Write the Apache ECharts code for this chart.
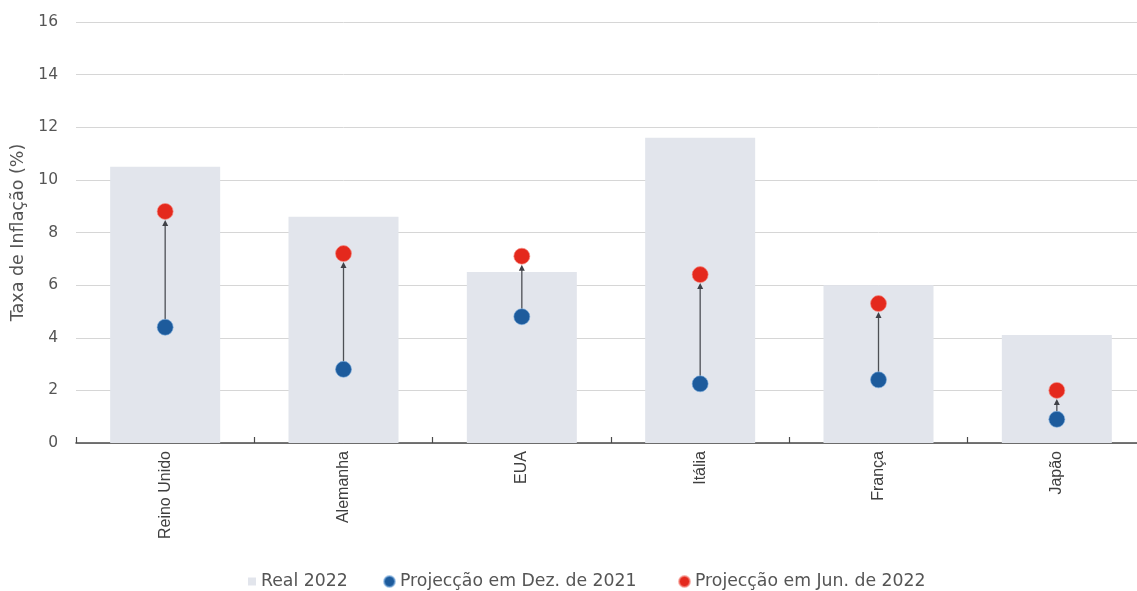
<!DOCTYPE html>
<html>
<head>
<meta charset="utf-8">
<script src="https://cdn.jsdelivr.net/npm/echarts@6/dist/echarts.min.js"></script>
<style>
  html, body { margin: 0; padding: 0; background: #ffffff; overflow: hidden; }
  /* the plot runs past the right edge of the window, so the canvas is a bit wider */
  #chart { width: 1150px; height: 591px; }
</style>
</head>
<body>
<div id="chart"></div>
<script>
// Inflation in 2022: actual rate vs. the December 2021 and June 2022 forecasts
const paises = ['Reino Unido', 'Alemanha', 'EUA', 'Itália', 'França', 'Japão'];
const real2022 = [10.5, 8.6, 6.5, 11.6, 6.0, 4.1];
const projDez2021 = [4.4, 2.8, 4.8, 2.25, 2.4, 0.9];
const projJun2022 = [8.8, 7.2, 7.1, 6.4, 5.3, 2.0];
const yTicks = { min: 0, max: 16, interval: 2 };

const NOME_REAL = 'Real 2022';
const NOME_DEZ = 'Projecção em Dez. de 2021';
const NOME_JUN = 'Projecção em Jun. de 2022';

const COR_BARRA = '#e2e5ec';
const COR_AZUL = '#1d5b9c';
const COR_VERMELHO = '#e4291d';
const RAIO = 8;

const setas = paises.map((p, i) => [i, projDez2021[i], projJun2022[i]]);

// Arrow from the earlier forecast up to the later one, trimmed to the dot edges
function desenhaSeta(params, api) {
  const a = api.coord([api.value(0), api.value(1)]);
  const b = api.coord([api.value(0), api.value(2)]);
  const x = a[0];
  const y0 = a[1] - RAIO;
  const tip = b[1] + RAIO + 0.5;
  const head = 6, half = 3;
  return {
    type: 'group',
    children: [
      { type: 'line', shape: { x1: x, y1: y0, x2: x, y2: tip + head - 1 },
        style: { stroke: '#4d4f55', lineWidth: 1.3 } },
      { type: 'polygon', shape: { points: [[x, tip], [x - half, tip + head], [x + half, tip + head]] },
        style: { fill: '#3f4147' } }
    ]
  };
}

const legendText = { fontFamily: 'DejaVu Sans', fontSize: 17.3, color: '#555' };
const legendBase = { top: 573, padding: 0, itemGap: 0, textStyle: legendText };

const chart = echarts.init(document.getElementById('chart'));
chart.setOption({
  animation: false,
  backgroundColor: '#ffffff',
  grid: { left: 76, top: 22, width: 1070, height: 421, containLabel: false },
  legend: [
    Object.assign({ data: [{ name: NOME_REAL, icon: 'rect' }], left: 248, itemWidth: 8, itemHeight: 8 }, legendBase),
    Object.assign({ data: [{ name: NOME_DEZ, icon: 'circle' }], left: 383, itemWidth: 11, itemHeight: 11 }, legendBase),
    Object.assign({ data: [{ name: NOME_JUN, icon: 'circle' }], left: 678, itemWidth: 11, itemHeight: 11 }, legendBase)
  ],
  xAxis: {
    type: 'category',
    data: paises,
    boundaryGap: true,
    axisLine: { lineStyle: { color: '#4a4a4a', width: 1.6 } },
    axisTick: { show: true, inside: true, length: 6, lineStyle: { color: '#4a4a4a', width: 1.2 } },
    axisLabel: { rotate: 90, margin: 8, fontFamily: 'Liberation Sans', fontSize: 16, color: '#3f3f3f' },
    splitLine: { show: false }
  },
  yAxis: {
    type: 'value',
    min: yTicks.min, max: yTicks.max, interval: yTicks.interval,
    name: 'Taxa de Inflação (%)',
    nameLocation: 'middle',
    nameGap: 47,
    nameTextStyle: { fontFamily: 'DejaVu Sans', fontSize: 17.5, color: '#555' },
    axisLine: { show: false },
    axisTick: { show: false },
    axisLabel: { margin: 18, fontFamily: 'DejaVu Sans', fontSize: 15.5, color: '#555' },
    splitLine: { lineStyle: { color: '#d6d6d6', width: 1 } }
  },
  series: [
    {
      name: NOME_REAL, type: 'bar', data: real2022, barWidth: 110,
      itemStyle: { color: COR_BARRA }, z: 1
    },
    {
      name: 'seta', type: 'custom', data: setas, renderItem: desenhaSeta,
      encode: { x: 0, y: [1, 2] }, z: 3, silent: true
    },
    {
      name: NOME_DEZ, type: 'scatter', data: projDez2021, symbolSize: RAIO * 2,
      itemStyle: { color: COR_AZUL, opacity: 1, borderColor: 'rgba(120,170,220,0.6)', borderWidth: 1 }, z: 4
    },
    {
      name: NOME_JUN, type: 'scatter', data: projJun2022, symbolSize: RAIO * 2,
      itemStyle: { color: COR_VERMELHO, opacity: 1, borderColor: 'rgba(245,140,130,0.65)', borderWidth: 1 }, z: 4
    }
  ]
});
</script>
</body>
</html>
